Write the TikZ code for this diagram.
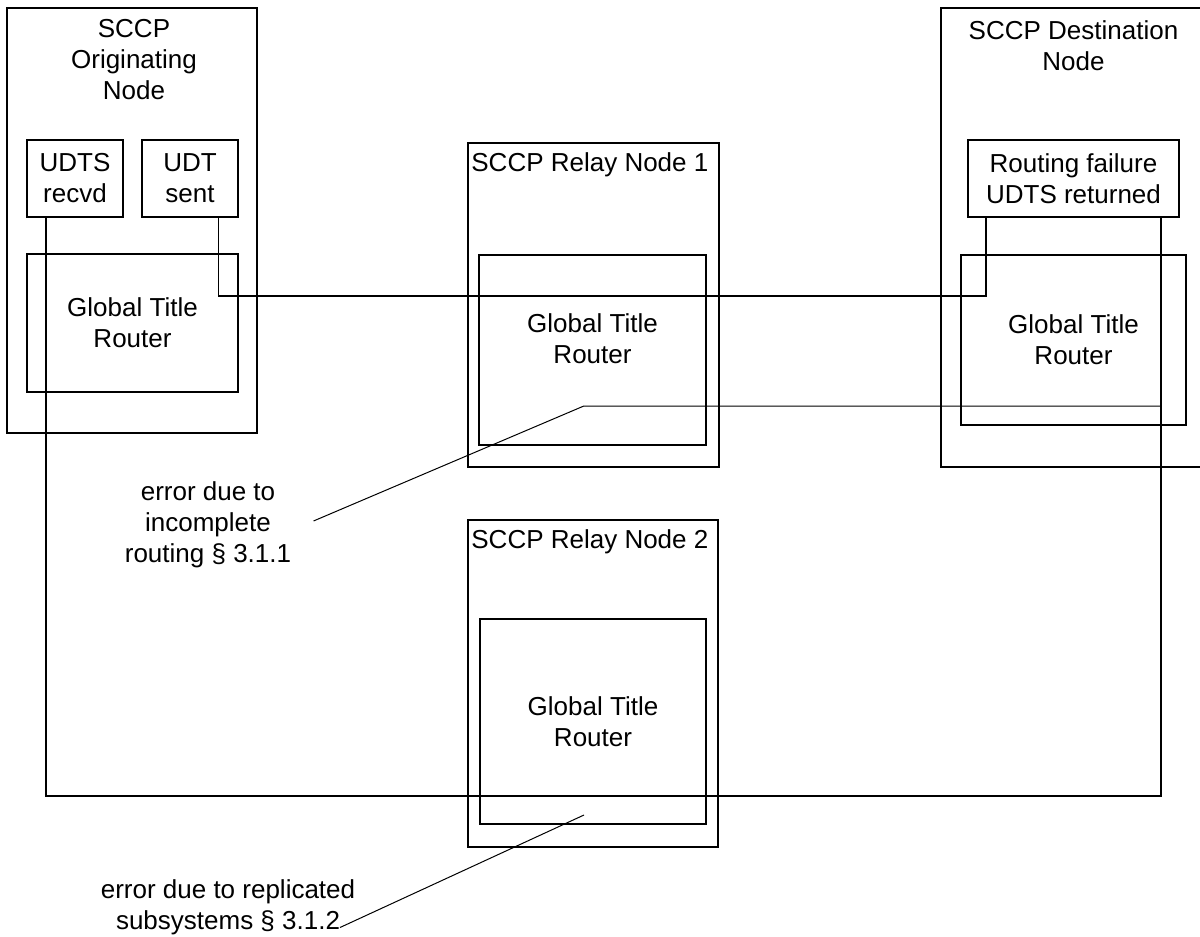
\documentclass[tikz,border=0pt]{standalone}
\usepackage{fontspec}
\setmainfont{Liberation Sans}
\usetikzlibrary{calc}

\begin{document}
\begin{tikzpicture}[x=0.5pt,y=-0.5pt,
    font=\fontsize{13}{15.5}\selectfont,
    box/.style={draw,line width=1pt,inner sep=0pt,align=center},
    wire/.style={line width=0.9pt},
    leader/.style={line width=0.5pt}]

  \useasboundingbox (0,0) rectangle (1200,937);
  \clip (0,0) rectangle (1200,937);

  % originating node
  \node[box,minimum width=125pt,minimum height=212.5pt] (orig) at (132,220.5) {};
  \node[align=center] (origtitle) at (134,60) {SCCP\\Originating\\Node};
  \node[box,minimum width=48pt,minimum height=38.5pt] (udts) at (75,178.5) {UDTS\\recvd};
  \node[box,minimum width=48pt,minimum height=38.5pt] (udt) at (190,178.5) {UDT\\sent};
  \node[box,minimum width=105.5pt,minimum height=69pt] (gtrO) at (132.5,323) {Global Title\\Router};

  % relay nodes
  \node[box,minimum width=125.5pt,minimum height=162pt] (relayA) at (593.5,305) {};
  \node[anchor=north west,inner xsep=2pt,inner ysep=5pt] (relayAtitle) at (relayA.north west) {SCCP Relay Node 1};
  \node[box,minimum width=113.5pt,minimum height=95pt] (gtrA) at (592.5,350) {};
  \node[align=center] (gtrAtext) at (592.5,339) {Global Title\\Router};

  \node[box,minimum width=125pt,minimum height=163.5pt] (relayB) at (593,683.5) {};
  \node[anchor=north west,inner xsep=2pt,inner ysep=5pt] (relayBtitle) at (relayB.north west) {SCCP Relay Node 2};
  \node[box,minimum width=113pt,minimum height=102.5pt] (gtrB) at (593,721.5) {Global Title\\Router};

  % destination node
  \node[box,minimum width=137pt,minimum height=229.5pt] (dest) at (1078,237.5) {};
  \node[align=center] (desttitle) at (1073.5,45.5) {SCCP Destination\\Node};
  \node[box,minimum width=105.5pt,minimum height=38.5pt] (fail) at (1073.5,178.5) {Routing failure\\UDTS returned};
  \node[box,minimum width=112.5pt,minimum height=85pt] (gtrD) at (1073.5,340) {Global Title\\Router};

  % message paths
  \coordinate (udtout) at ($(udt.south west)!0.79!(udt.south east)$);
  \coordinate (failin) at ($(fail.south west)!0.09!(fail.south east)$);
  \coordinate (failout) at ($(fail.south west)!0.91!(fail.south east)$);
  \coordinate (udtsin) at ($(udts.south west)!0.2!(udts.south east)$);

  \draw[wire] (udtout) -- ++(0,78) -| (failin);
  \draw[wire] (failout) -- ++(0,578) -| (udtsin);

  % error notes
  \node[align=center,inner sep=0pt] (errA) at (208,525) {error due to\\incomplete\\routing \S\ 3.1.1};
  \node[align=center,inner sep=0pt] (errB) at (228,907.5) {error due to replicated\\subsystems \S\ 3.1.2};

  \path (failout) ++(0,188) coordinate (tapA);
  \draw[leader] (tapA) -- ++(-577,0) -- ([shift={(22,-4)}]errA.east);
  \draw[leader] ([shift={(-9,-10)}]gtrB.south) -- ([shift={(112,20)}]errB.center);

\end{tikzpicture}
\end{document}
